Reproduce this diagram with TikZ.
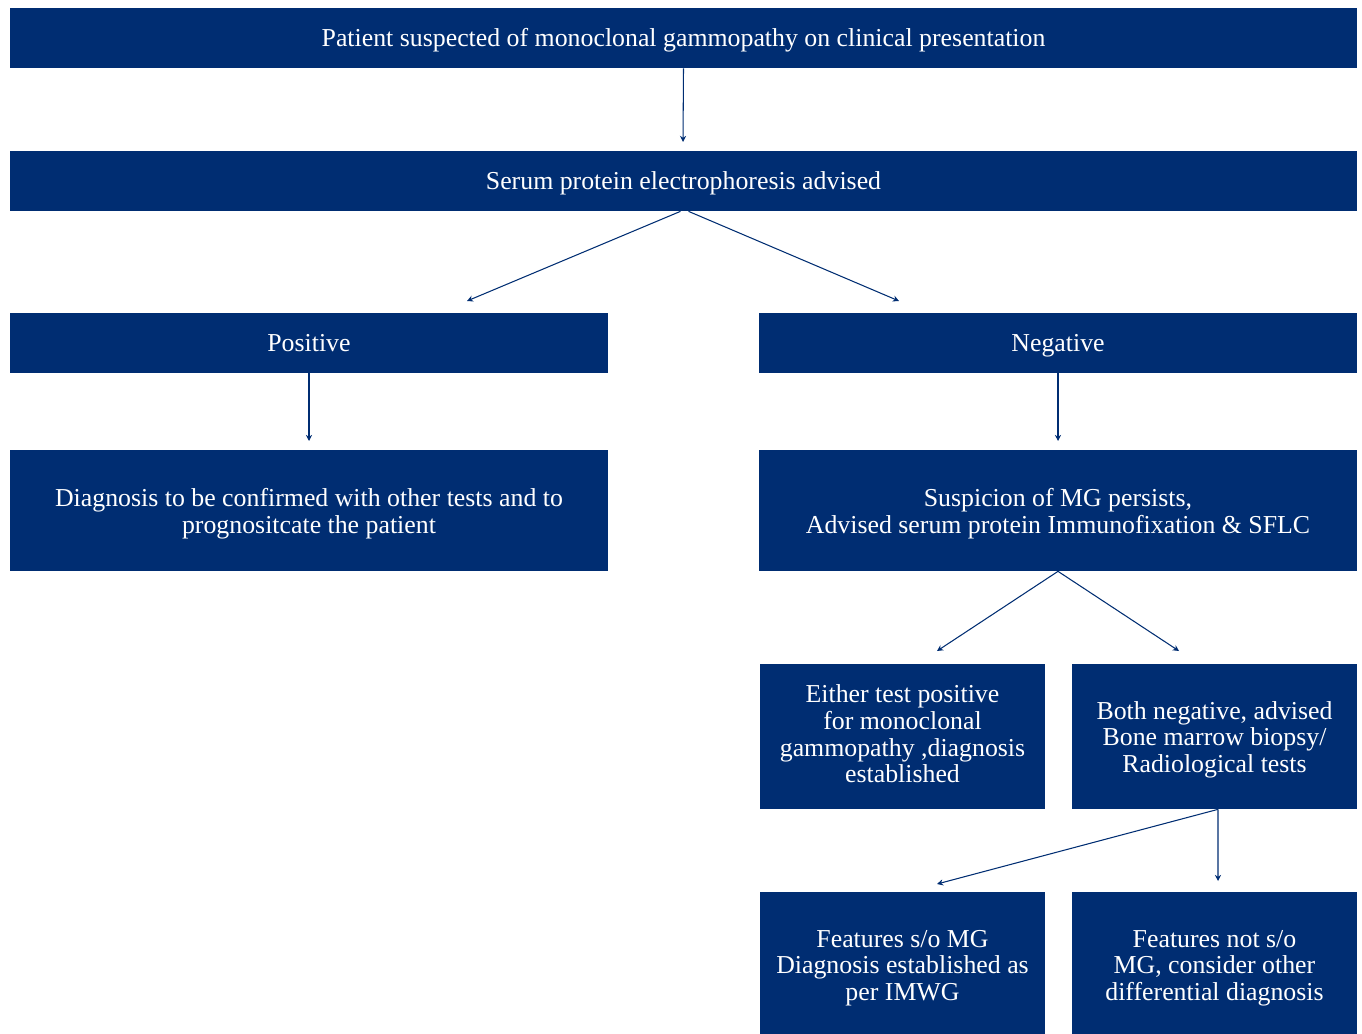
\documentclass[tikz,border=0pt]{standalone}
\usepackage{fontspec}
\setmainfont{Liberation Serif}
\usetikzlibrary{arrows.meta}
\definecolor{mgblue}{RGB}{0,45,114}
\tikzset{
  flowbox/.style={fill=mgblue, text=white, inner sep=0pt, align=center,
    font=\fontsize{14.7}{15.3}\selectfont},
  oneline/.style={text height=0.96em, text depth=0pt},
  lastbase/.style={text height=#1, text depth=0pt},
  widebox/.style={flowbox, oneline, minimum width=26.94cm, minimum height=1.2cm},
  halfbox/.style={flowbox, minimum width=11.96cm},
  smallbox/.style={flowbox, minimum width=5.7cm},
  flowarrow/.style={draw=mgblue, line width=0.6pt, -{Stealth[length=3.5pt,width=3.5pt]}}
}

\begin{document}
\begin{tikzpicture}[x=0.02cm,y=-0.02cm]
        \useasboundingbox (0,0) rectangle (1362,1034);
        \node[widebox] (suspect) at (683.5,38) {Patient suspected of monoclonal gammopathy on clinical presentation};
        \node[widebox] (spep) at (683.5,181) {Serum protein electrophoresis advised};
        \node[halfbox, oneline, minimum height=1.2cm] (positive) at (309,343) {Positive};
        \node[halfbox, oneline, minimum height=1.2cm] (negative) at (1058,343) {Negative};
        \node[halfbox, lastbase=26pt, minimum height=2.42cm] (confirm) at (309,510.5) {Diagnosis to be confirmed with other tests and to\\prognositcate the patient};
        \node[halfbox, lastbase=26pt, minimum height=2.42cm] (ifx) at (1058,510.5) {Suspicion of MG persists,\\Advised serum protein Immunofixation \& SFLC};
        \node[smallbox, lastbase=52.8pt, minimum height=2.9cm] (either) at (902.5,736.5) {Either test positive\\for monoclonal\\gammopathy ,diagnosis\\established};
        \node[smallbox, lastbase=41.4pt, minimum height=2.9cm] (both) at (1214.5,736.5) {Both negative, advised\\Bone marrow biopsy/\\Radiological tests};
        \node[smallbox, lastbase=43.1pt, minimum height=2.84cm] (mgyes) at (902.5,963) {Features s/o MG\\Diagnosis established as\\per IMWG};
        \node[smallbox, lastbase=43.1pt, minimum height=2.84cm] (mgno) at (1214.5,963) {Features not s/o\\MG, consider other\\differential diagnosis};

        \coordinate (spepin) at (683,142);
        \coordinate (posin) at (467,301);
        \coordinate (negin) at (899,301);
        \coordinate (confirmin) at (309,441);
        \coordinate (ifxin) at (1058,441);
        \coordinate (eitherin) at (937,651);
        \coordinate (bothin) at (1179,651);
        \coordinate (mgyesin) at (937,884);
        \coordinate (mgnoin) at (1218,881);

        \draw[flowarrow] (suspect.south) -- (spepin);
        \draw[flowarrow] ([xshift=-0.06cm]spep.south) -- (posin);
        \draw[flowarrow] ([xshift=0.1cm]spep.south) -- (negin);
        \draw[flowarrow] (positive.south) -- (confirmin);
        \draw[flowarrow] (negative.south) -- (ifxin);
        \draw[flowarrow] (ifx.south) -- (eitherin);
        \draw[flowarrow] (ifx.south) -- (bothin);
        \draw[flowarrow] ([xshift=0.07cm]both.south) -- (mgyesin);
        \draw[flowarrow] ([xshift=0.07cm]both.south) -- (mgnoin);
    \end{tikzpicture}
\end{document}
